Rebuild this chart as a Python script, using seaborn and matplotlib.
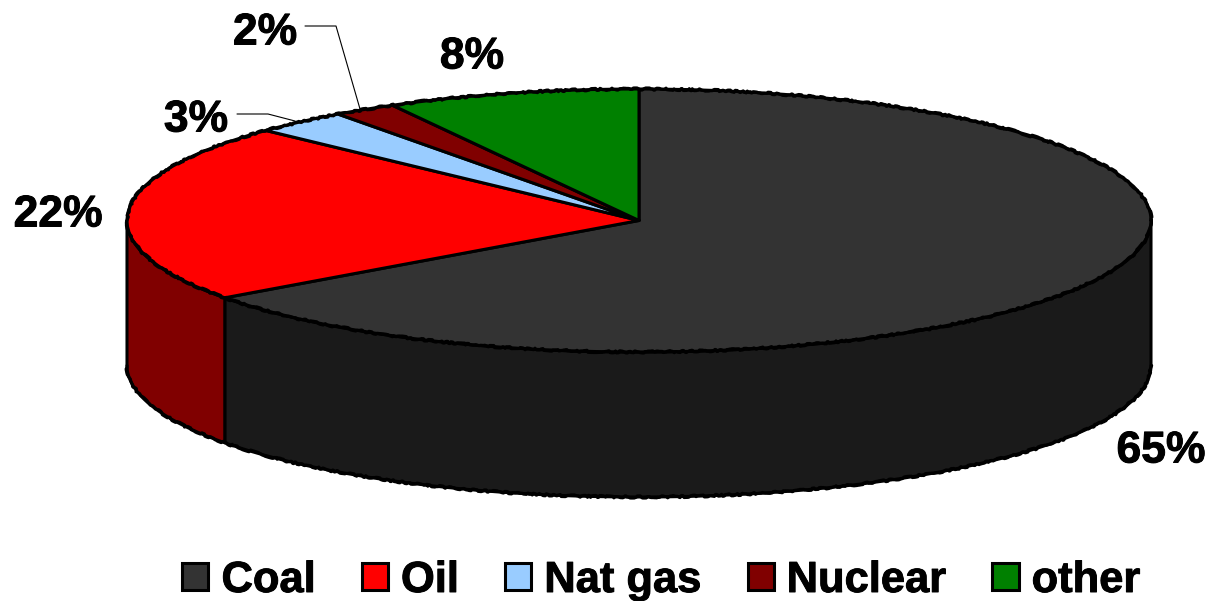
import numpy as np
import matplotlib
matplotlib.use("Agg")
import matplotlib.pyplot as plt
from matplotlib.patches import Patch
import matplotlib.patheffects as pe
import seaborn as sns

categories = ["Coal", "Oil", "Nat gas", "Nuclear", "other"]
values = [65, 22, 3, 2, 8]
pct_labels = ["65%", "22%", "3%", "2%", "8%"]
top_colors = ["#333333", "#FF0000", "#99CCFF", "#800000", "#008000"]
side_colors = {"Coal": "#1A1A1A", "Oil": "#800000"}

W, H = 1207, 601
CX, CY, RX, RY, DEPTH = 639, 220.5, 512, 131.5, 145
label_px = {"Coal": (1161, 451), "Oil": (58, 215), "Nat gas": (196, 120),
            "Nuclear": (265, 33), "other": (472, 57)}
leaders_px = {"Nat gas": [(237, 114), (268, 114), (295, 121)],
              "Nuclear": [(305, 26), (336, 26), (360, 109)]}

sns.set_theme(style="white")
plt.rcParams["font.family"] = ["Liberation Sans", "DejaVu Sans"]
palette = sns.color_palette(top_colors)
bold = [pe.withStroke(linewidth=0.7, foreground="black")]

def d(px):
    return ((px[0] - CX) / RX, (CY - px[1]) / RY)

fig = plt.figure(figsize=(W / 100, H / 100), dpi=100)
ax = fig.add_axes([0, 0, 1, 1])
lw = 2.2
wedges, _ = ax.pie(values, colors=palette, startangle=90, counterclock=False, radius=1,
                   wedgeprops=dict(edgecolor="black", linewidth=lw, joinstyle="round"))
for w in wedges:
    w.set_zorder(5)
ax.set_aspect("auto")
ax.set_xlim(-CX / RX, (W - CX) / RX)
ax.set_ylim((CY - H) / RY, CY / RY)
ax.axis("off")

# extruded side walls follow the slice angles; only the front half (180-360 deg) shows
depth = DEPTH / RY
edges = 90 - 360 * np.cumsum([0] + values) / sum(values)
for i, name in enumerate(categories):
    hi, lo = edges[i], edges[i + 1]
    a, b = lo % 360, (hi % 360) or 360
    spans = [(a, b)] if a < b else [(a, 360), (0, b)]
    for s, e in spans:
        s, e = max(s, 180), min(e, 360)
        if e <= s:
            continue
        t = np.radians(np.linspace(s, e, 200))
        x = np.cos(t)
        y = np.sin(t)
        ax.fill(np.r_[x, x[::-1]], np.r_[y, y[::-1] - depth],
                facecolor=side_colors[name], edgecolor="black", linewidth=lw,
                joinstyle="round", zorder=2)

# slightly rough rims, as in the low-resolution source outline
t = np.radians(np.linspace(0, 360, 720))
rim, = ax.plot(np.cos(t), np.sin(t), color="black", lw=lw, zorder=5.5)
t2 = np.radians(np.linspace(180, 360, 360))
low, = ax.plot(np.cos(t2), np.sin(t2) - depth, color="black", lw=lw, zorder=5.5)
for ln in (rim, low):
    ln.set_sketch_params(scale=1.1, length=28, randomness=16)

for name, lab in zip(categories, pct_labels):
    x, y = d(label_px[name])
    ax.text(x, y, lab, ha="center", va="center", fontsize=32, fontweight="bold",
            color="black", zorder=6, path_effects=bold)
for pts in leaders_px.values():
    xy = np.array([d(p) for p in pts])
    ax.plot(xy[:, 0], xy[:, 1], color="black", lw=0.8, zorder=6)

handles = [Patch(facecolor=c, edgecolor="black", linewidth=lw) for c in palette]
leg = ax.legend(handles, categories, ncol=5, loc="center",
                bbox_to_anchor=(661.5 / W, 1 - 581 / H), bbox_transform=fig.transFigure,
                frameon=False, prop=dict(size=31.3, weight="bold"), labelcolor="black",
                handlelength=0.6, handleheight=0.6, handletextpad=0.3,
                columnspacing=1.06, borderpad=0, borderaxespad=0)
for txt in leg.get_texts():
    txt.set_path_effects(bold)
fig.savefig("out.png", dpi=100, facecolor="white")
